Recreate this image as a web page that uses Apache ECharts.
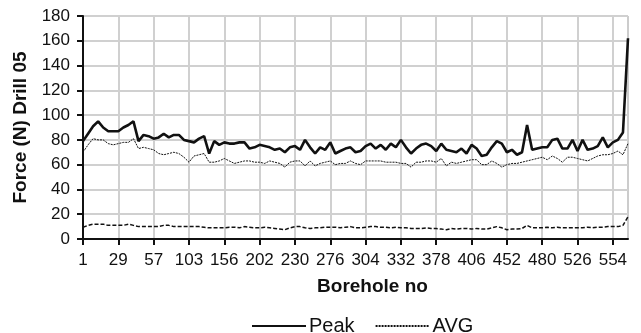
<!DOCTYPE html>
<html>
<head>
<meta charset="utf-8">
<script src="https://cdn.jsdelivr.net/npm/echarts@6/dist/echarts.min.js"></script>
<style>
  html, body { margin: 0; padding: 0; background: #fff; }
  #chart { width: 641px; height: 333px; }
</style>
</head>
<body>
<div id="chart"></div>
<script>
// borehole numbers (only every 7th is labelled)
var boreholes = [
    1, 5, 9, 13, 17, 21, 25,
    29, 33, 37, 41, 45, 49, 53,
    57, 64, 71, 78, 85, 91, 97,
    103, 111, 119, 127, 135, 142, 149,
    156, 163, 170, 177, 184, 190, 196,
    202, 206, 210, 214, 218, 222, 226,
    230, 237, 244, 251, 258, 264, 270,
    276, 280, 284, 288, 292, 296, 300,
    304, 308, 312, 316, 320, 324, 328,
    332, 339, 346, 353, 360, 366, 372,
    378, 382, 386, 390, 394, 398, 402,
    406, 413, 420, 427, 434, 440, 446,
    452, 456, 460, 464, 468, 472, 476,
    480, 487, 494, 501, 508, 514, 520,
    526, 530, 534, 538, 542, 546, 550,
    554, 558, 562, 566
];

var peak = [
    79, 85, 91, 95, 90, 87, 87, 87, 90, 92,
    95, 79, 84, 83, 81, 82, 85, 82, 84, 84,
    80, 79, 78, 81, 83, 69, 79, 76, 78, 77,
    77, 78, 78, 73, 74, 76, 75, 74, 72, 73,
    70, 74, 75, 72, 80, 74, 69, 74, 72, 78,
    69, 71, 73, 74, 70, 71, 75, 77, 73, 76,
    72, 77, 74, 80, 74, 69, 73, 76, 77, 75,
    71, 77, 72, 71, 70, 73, 69, 76, 73, 67,
    68, 74, 79, 77, 70, 72, 68, 70, 92, 72,
    73, 74, 74, 80, 81, 73, 73, 80, 71, 80,
    72, 73, 75, 82, 74, 78, 80, 86, 162
];

var avg = [
    70, 76, 81, 80, 80, 77, 76, 77, 78, 78,
    81, 73, 74, 73, 72, 69, 68, 69, 70, 69,
    66, 62, 67, 68, 69, 62, 62, 63, 65, 63,
    61, 62, 63, 63, 62, 62, 61, 63, 62, 61,
    58, 62, 63, 63, 59, 63, 59, 61, 62, 63,
    60, 61, 61, 63, 61, 60, 63, 63, 63, 63,
    62, 62, 62, 61, 61, 58, 62, 62, 63, 63,
    62, 65, 59, 62, 61, 62, 63, 64, 64, 60,
    60, 63, 61, 58, 60, 61, 61, 62, 63, 64,
    65, 66, 64, 67, 65, 62, 66, 66, 65, 64,
    63, 65, 67, 68, 68, 69, 71, 68, 77
];

var minimum = [
    9.5, 11, 12, 12, 12, 11, 11, 11, 11, 12,
    11, 10, 10, 10, 10, 10, 11, 11, 10, 10,
    10, 10, 10, 10, 9.5, 9, 9, 9, 9, 9.5,
    9.5, 9, 10, 9.5, 9, 9, 9.5, 9, 8.5, 8,
    7.5, 9, 10, 10, 9, 8.5, 9, 9, 9.5, 9.5,
    9.5, 9, 9.5, 10, 9, 9, 9.5, 10, 10, 9.5,
    9.5, 9, 9.5, 9, 9, 8.5, 8.5, 8.5, 9, 8.5,
    8.5, 8, 7.5, 8.5, 8, 8.5, 8.5, 8, 8.5, 8,
    8, 9, 10, 9, 7.5, 8, 8, 8.5, 11, 9,
    9, 9, 9.5, 9, 9.5, 9, 9, 9, 9, 9,
    9.5, 9, 9.5, 9.5, 10, 10, 10, 11, 18
];

var font = 'Liberation Sans, Arial, sans-serif';
var myChart = echarts.init(document.getElementById('chart'));

var option = {
    animation: false,
    textStyle: { fontFamily: font, color: '#111' },
    grid: {
        left: 83, right: 13, top: 16, bottom: 94,
        show: true, borderColor: '#999', borderWidth: 1
    },
    legend: {
        data: ['Peak', 'AVG'],
        left: 246, top: 311,
        itemWidth: 54, itemHeight: 14, itemGap: 20,
        itemStyle: { opacity: 0 },
        textStyle: { fontFamily: font, fontSize: 20, color: '#111', padding: [0, 0, 0, -2] }
    },
    xAxis: {
        type: 'category',
        data: boreholes,
        boundaryGap: false,
        name: 'Borehole no',
        nameLocation: 'middle',
        nameGap: 38,
        nameTextStyle: { fontFamily: font, fontSize: 19, fontWeight: 'bold', color: '#111', padding: [0, 0, 0, 34] },
        axisLine: { lineStyle: { color: '#111', width: 2 } },
        axisTick: { interval: 6, length: 6, lineStyle: { color: '#111', width: 2 } },
        axisLabel: { interval: 6, margin: 13, fontSize: 17, color: '#111', fontFamily: font },
        splitLine: { show: true, interval: 6, lineStyle: { color: '#d0d0d0', width: 2 } }
    },
    yAxis: {
        type: 'value',
        min: 0, max: 180, interval: 20,
        name: 'Force (N) Drill 05',
        nameLocation: 'middle',
        nameGap: 52,
        nameTextStyle: { fontFamily: font, fontSize: 19, fontWeight: 'bold', color: '#111' },
        axisLine: { show: true, lineStyle: { color: '#111', width: 2 } },
        axisTick: { show: true, length: 6, lineStyle: { color: '#111', width: 2 } },
        axisLabel: { margin: 13, fontSize: 17, color: '#111', fontFamily: font },
        splitLine: { lineStyle: { color: '#d0d0d0', width: 2 } }
    },
    series: [
        {
            name: 'Peak', type: 'line', data: peak, symbol: 'none',
            lineStyle: { color: '#111', width: 2.6 }, itemStyle: { color: '#111' }, z: 4
        },
        {
            name: 'AVG', type: 'line', data: avg, symbol: 'none',
            lineStyle: { color: '#111', width: 1, type: [2, 1] }, itemStyle: { color: '#111' }, z: 3
        },
        {
            name: 'Min', type: 'line', data: minimum, symbol: 'none',
            lineStyle: { color: '#111', width: 1.5, type: [4, 2] }, itemStyle: { color: '#111' }, z: 3
        }
    ]
};

myChart.setOption(option);
</script>
</body>
</html>
